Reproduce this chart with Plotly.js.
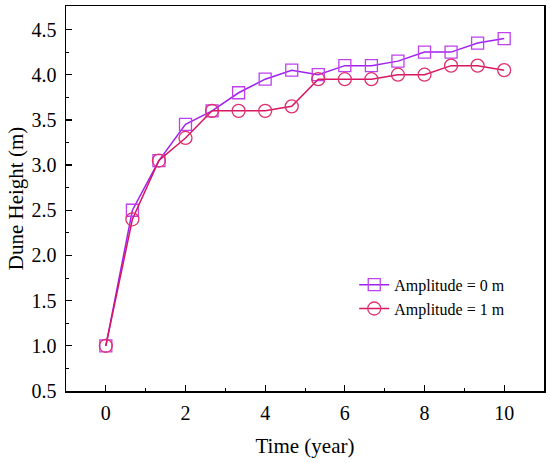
<!DOCTYPE html>
<html>
<head>
<meta charset="utf-8">
<script src="https://cdn.plot.ly/plotly-3.0.1.min.js"></script>
<style>html,body{margin:0;padding:0;background:#fff}#chart{width:550px;height:463px}</style>
</head>
<body>
<div id="chart"></div>
<script>
const timeYears = [0, 0.667, 1.333, 2, 2.667, 3.333, 4, 4.667, 5.333, 6, 6.667, 7.333, 8, 8.667, 9.333, 10];
const amp0 = [1.0, 2.5, 3.05, 3.45, 3.6, 3.8, 3.95, 4.05, 4.0, 4.1, 4.1, 4.15, 4.25, 4.25, 4.35, 4.4];
const amp1 = [1.0, 2.4, 3.05, 3.3, 3.6, 3.6, 3.6, 3.65, 3.95, 3.95, 3.95, 4.0, 4.0, 4.1, 4.1, 4.05];
const seriesNames = ["Amplitude = 0 m", "Amplitude = 1 m"];
const xTicks = [0, 2, 4, 6, 8, 10];
const yTicks = [0.5, 1.0, 1.5, 2.0, 2.5, 3.0, 3.5, 4.0, 4.5];

const font = "Liberation Serif, Times New Roman, serif";
const traces = [
  {x: timeYears, y: amp0, name: seriesNames[0], mode: "lines+markers", type: "scatter",
   line: {color: "#a020f0", width: 1.5},
   marker: {symbol: "square-open", size: 12, color: "#c040f0", line: {width: 1.3}}},
  {x: timeYears, y: amp1, name: seriesNames[1], mode: "lines+markers", type: "scatter",
   line: {color: "#d81560", width: 1.5},
   marker: {symbol: "circle-open", size: 13, color: "#e0306e", line: {width: 1.3}}}
];
const axisCommon = {
  showline: true, linecolor: "#000", linewidth: 1.5, mirror: true,
  ticks: "inside", ticklen: 6, tickwidth: 1.3, tickcolor: "#000",
  showgrid: false, zeroline: false,
  tickfont: {family: font, size: 20, color: "#000"}
};
const layout = {
  width: 550, height: 463,
  margin: {l: 66, r: 6, t: 6, b: 72},
  paper_bgcolor: "#fff", plot_bgcolor: "#fff",
  showlegend: true,
  legend: {x: 0.603, y: 0.32, xanchor: "left", yanchor: "top", bgcolor: "rgba(0,0,0,0)",
           font: {family: font, size: 16, color: "#000"}, tracegroupgap: 0},
  xaxis: Object.assign({}, axisCommon, {
    range: [-1, 11], tickvals: xTicks, ticktext: xTicks.map(String),
    ticklabelstandoff: 3,
    minor: {ticks: "inside", ticklen: 3, tickwidth: 1, tickcolor: "#000", dtick: 1, tick0: 1},
    title: {text: "Time (year)", font: {family: font, size: 21, color: "#000"}, standoff: 16}
  }),
  yaxis: Object.assign({}, axisCommon, {
    range: [0.5, 4.76], tickvals: yTicks, ticktext: yTicks.map(v => v.toFixed(1)),
    ticklabelstandoff: 4,
    minor: {ticks: "inside", ticklen: 3, tickwidth: 1, tickcolor: "#000", dtick: 0.25, tick0: 0.75},
    title: {text: "Dune Height (m)", font: {family: font, size: 21, color: "#000"}, standoff: 2}
  })
};
Plotly.newPlot("chart", traces, layout, {displayModeBar: false, staticPlot: true});
</script>
</body>
</html>
